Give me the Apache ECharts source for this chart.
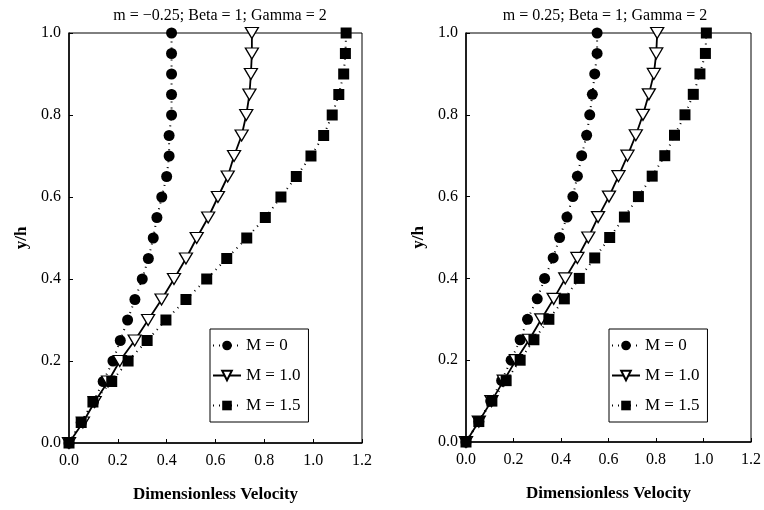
<!DOCTYPE html>
<html>
<head>
<meta charset="utf-8">
<script src="https://cdn.jsdelivr.net/npm/echarts@6/dist/echarts.min.js"></script>
<style>html,body{margin:0;padding:0;background:#fff}#c{width:764px;height:510px}</style>
</head>
<body>
<div id="c"></div>
<script>
// y/h positions (shared)
const yVals = [0,0.05,0.1,0.15,0.2,0.25,0.3,0.35,0.4,0.45,0.5,0.55,0.6,0.65,0.7,0.75,0.8,0.85,0.9,0.95,1.0];
// Left panel: m = -0.25
const leftM0  = [0,0.05,0.10,0.14,0.18,0.21,0.24,0.27,0.30,0.325,0.345,0.36,0.38,0.40,0.41,0.41,0.42,0.42,0.42,0.42,0.42];
const leftM10 = [0,0.057,0.105,0.16,0.208,0.269,0.324,0.379,0.43,0.479,0.523,0.57,0.61,0.65,0.676,0.707,0.726,0.739,0.745,0.749,0.749];
const leftM15 = [0,0.05,0.098,0.175,0.242,0.32,0.397,0.479,0.564,0.646,0.728,0.804,0.868,0.931,0.991,1.043,1.078,1.105,1.125,1.132,1.135];
// Right panel: m = 0.25
const rightM0  = [0,0.054,0.104,0.15,0.19,0.228,0.259,0.30,0.331,0.367,0.394,0.425,0.45,0.469,0.487,0.508,0.521,0.532,0.542,0.552,0.552];
const rightM10 = [0,0.054,0.107,0.159,0.21,0.266,0.317,0.369,0.418,0.469,0.515,0.556,0.602,0.642,0.68,0.715,0.745,0.77,0.791,0.801,0.805];
const rightM15 = [0,0.054,0.109,0.169,0.228,0.286,0.349,0.414,0.477,0.542,0.605,0.667,0.726,0.784,0.837,0.878,0.922,0.957,0.985,1.008,1.012];
const seriesNames = ['M = 0','M = 1.0','M = 1.5'];
const titles = ['m = \u22120.25; Beta = 1; Gamma = 2','m = 0.25; Beta = 1; Gamma = 2'];

const serif = '"Liberation Serif","DejaVu Serif",serif';
function pts(xs){ return xs.map((x,i)=>[x,yVals[i]]); }

function axisX(idx){
  return {gridIndex:idx,type:'value',min:0,max:1.2,interval:0.2,
    axisLine:{show:true,onZero:false,lineStyle:{color:'#000',width:1.5}},
    axisTick:{show:true,inside:true,length:4,lineStyle:{color:'#000'}},
    axisLabel:{color:'#000',fontFamily:serif,fontSize:16,margin:10,formatter:v=>v.toFixed(1)},
    splitLine:{show:false},
    name:'Dimensionless Velocity',nameLocation:'middle',nameGap:43,
    nameTextStyle:{color:'#000',fontFamily:serif,fontSize:17,fontWeight:'bold'}};
}
function axisY(idx){
  return {gridIndex:idx,type:'value',min:0,max:1.0,interval:0.2,
    axisLine:{show:true,onZero:false,lineStyle:{color:'#000',width:1.5}},
    axisTick:{show:true,inside:true,length:4,lineStyle:{color:'#000'}},
    axisLabel:{color:'#000',fontFamily:serif,fontSize:16,margin:8,formatter:v=>v.toFixed(1)},
    splitLine:{show:false},
    name:'y/h',nameLocation:'middle',nameGap:39,
    nameTextStyle:{color:'#000',fontFamily:serif,fontSize:17,fontWeight:'bold'}};
}
function mkSeries(idx, data){
  return [
    {name:seriesNames[0],type:'line',xAxisIndex:idx,yAxisIndex:idx,data:pts(data[0]),clip:false,
      symbol:'circle',symbolSize:11,itemStyle:{color:'#000'},
      lineStyle:{color:'#000',width:2,type:[1,5]}},
    {name:seriesNames[1],type:'line',xAxisIndex:idx,yAxisIndex:idx,data:pts(data[1]),clip:false,
      symbol:'triangle',symbolRotate:180,symbolSize:[13,11],itemStyle:{color:'#fff',borderColor:'#000',borderWidth:1.3},
      lineStyle:{color:'#000',width:1.8}},
    {name:seriesNames[2],type:'line',xAxisIndex:idx,yAxisIndex:idx,data:pts(data[2]),clip:false,
      symbol:'rect',symbolSize:11,itemStyle:{color:'#000'},
      lineStyle:{color:'#000',width:2,type:[1,5]}}
  ];
}
function mkLegend(left){
  return {orient:'vertical',left:left,top:329,data:seriesNames,
    itemWidth:28,itemHeight:12,itemGap:13,padding:[8,8,8,2],
    borderColor:'#000',borderWidth:1,backgroundColor:'#fff',
    textStyle:{color:'#000',fontFamily:serif,fontSize:17},selectedMode:false};
}

const chart = echarts.init(document.getElementById('c'),null,{renderer:'canvas'});
chart.setOption({
  animation:false,
  backgroundColor:'#fff',
  title:[
    {text:titles[0],left:215,top:3,textAlign:'center',textStyle:{fontFamily:serif,fontSize:16,fontWeight:'normal',color:'#000'}},
    {text:titles[1],left:600,top:3,textAlign:'center',textStyle:{fontFamily:serif,fontSize:16,fontWeight:'normal',color:'#000'}}
  ],
  grid:[
    {left:69,top:33,width:293,height:410,show:true,borderColor:'#000',borderWidth:1,backgroundColor:'transparent'},
    {left:466,top:33,width:289,height:409,show:true,borderColor:'#000',borderWidth:1,backgroundColor:'transparent'}
  ],
  xAxis:[axisX(0),axisX(1)],
  yAxis:[axisY(0),axisY(1)],
  legend:[mkLegend(210),mkLegend(609)],
  series:[...mkSeries(0,[leftM0,leftM10,leftM15]),...mkSeries(1,[rightM0,rightM10,rightM15])]
});
</script>
</body>
</html>
